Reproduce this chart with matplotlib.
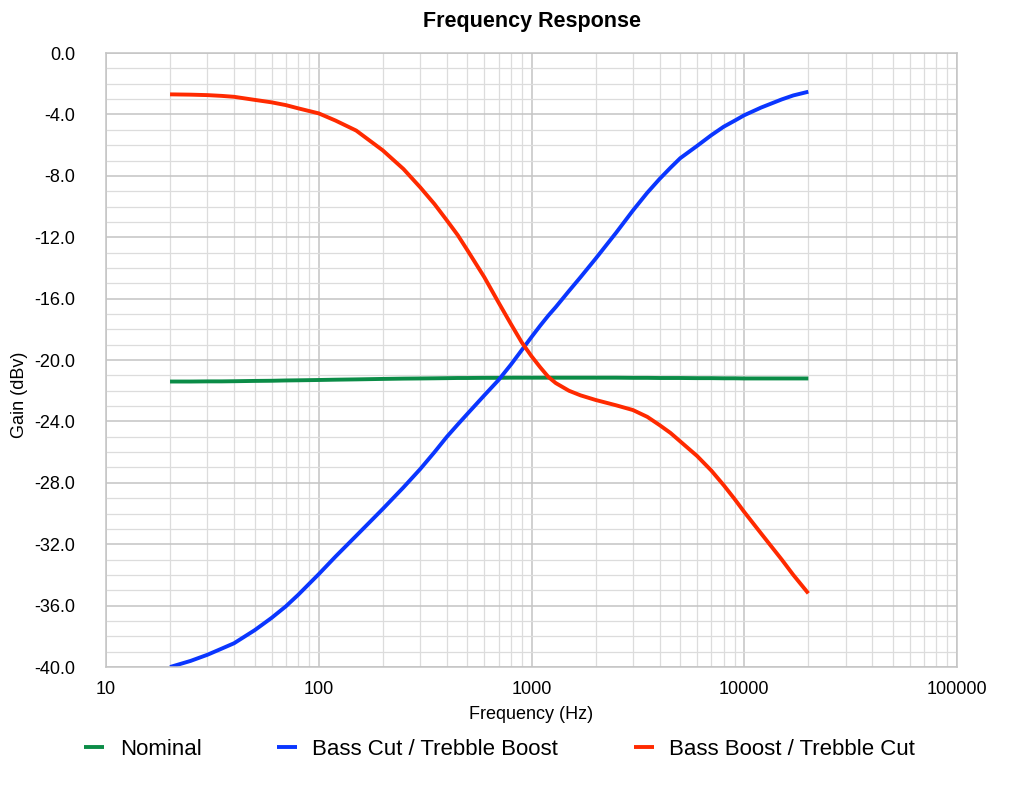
import matplotlib
matplotlib.use("Agg")
import matplotlib.pyplot as plt
from matplotlib.ticker import FixedLocator, LogLocator, NullFormatter, MultipleLocator

plt.rcParams['font.family'] = ['Liberation Sans', 'DejaVu Sans']

# Frequency points (Hz)
freq = [20, 25, 30, 35, 40, 50, 60, 70, 80, 100, 120, 150, 200, 250, 300, 350,
        400, 450, 500, 600, 700, 800, 900, 1000, 1100, 1200, 1300, 1500, 1700,
        2000, 2500, 3000, 3500, 4000, 4500, 5000, 6000, 7000, 8000, 9000,
        10000, 12000, 15000, 17000, 20000]

nominal = [-21.4, -21.4, -21.39, -21.39, -21.38, -21.36, -21.35, -21.33, -21.32,
           -21.3, -21.28, -21.26, -21.23, -21.21, -21.2, -21.19, -21.18, -21.17,
           -21.17, -21.16, -21.16, -21.15, -21.15, -21.15, -21.15, -21.15, -21.15,
           -21.15, -21.15, -21.15, -21.15, -21.16, -21.16, -21.17, -21.17, -21.17,
           -21.18, -21.18, -21.19, -21.19, -21.2, -21.2, -21.2, -21.2, -21.2]

bass_cut = [-40.0, -39.6, -39.2, -38.8, -38.45, -37.6, -36.8, -36.05, -35.3,
            -33.95, -32.8, -31.45, -29.7, -28.3, -27.1, -26.0, -25.0, -24.2,
            -23.5, -22.3, -21.3, -20.3, -19.35, -18.5, -17.75, -17.1, -16.55,
            -15.5, -14.6, -13.4, -11.7, -10.25, -9.1, -8.2, -7.47, -6.85,
            -6.05, -5.35, -4.8, -4.41, -4.05, -3.55, -3.02, -2.76, -2.52]

bass_boost = [-2.69, -2.71, -2.74, -2.79, -2.85, -3.05, -3.21, -3.39, -3.6,
              -3.93, -4.4, -5.05, -6.34, -7.55, -8.75, -9.84, -10.9, -11.86,
              -12.85, -14.6, -16.25, -17.65, -18.85, -19.75, -20.48, -21.1, -21.5,
              -22.0, -22.3, -22.6, -22.95, -23.26, -23.7, -24.24, -24.75, -25.3,
              -26.25, -27.2, -28.15, -29.05, -29.9, -31.3, -33.0, -34.0, -35.2]

y_ticks = [-40.0, -36.0, -32.0, -28.0, -24.0, -20.0, -16.0, -12.0, -8.0, -4.0, 0.0]
x_ticks = [10, 100, 1000, 10000, 100000]

fig = plt.figure(figsize=(10.24, 7.92), dpi=100)
ax = fig.add_axes([0.1035, 0.1578, 0.8311, 0.7752])

line_kw = dict(lw=2.8, solid_capstyle='butt', solid_joinstyle='round')
ax.plot(freq, nominal, color='#0b8c47', label='Nominal', **line_kw)
ax.plot(freq, bass_cut, color='#0a36ff', label='Bass Cut / Trebble Boost', **line_kw)
ax.plot(freq, bass_boost, color='#ff2a00', label='Bass Boost / Trebble Cut', **line_kw)

ax.set_xscale('log')
ax.set_xlim(10, 100000)
ax.set_ylim(-40, 0)

ax.xaxis.set_major_locator(FixedLocator(x_ticks))
ax.set_xticklabels([str(t) for t in x_ticks])
ax.xaxis.set_minor_locator(LogLocator(base=10, subs=range(2, 10), numticks=20))
ax.xaxis.set_minor_formatter(NullFormatter())
ax.yaxis.set_major_locator(FixedLocator(y_ticks))
ax.set_yticklabels([f"{t:.1f}" for t in y_ticks])
ax.yaxis.set_minor_locator(MultipleLocator(1))

ax.grid(which='major', color='#c4c4c4', lw=1.1)
ax.grid(which='minor', color='#dcdcdc', lw=0.9)
ax.set_axisbelow(True)
for s in ax.spines.values():
    s.set_color('#c4c4c4')
    s.set_linewidth(1.1)

ax.tick_params(which='both', length=0)
ax.tick_params(axis='y', pad=22, labelsize=13)
ax.tick_params(axis='x', pad=10, labelsize=13)

ax.set_title('Frequency Response', fontsize=15.5, fontweight='bold', pad=19)
ax.set_xlabel('Frequency (Hz)', fontsize=13, labelpad=6)
ax.set_ylabel('Gain (dBv)', fontsize=13)
ax.yaxis.set_label_coords(-0.092, 0.443)

fig.legend(loc='center', bbox_to_anchor=(0.488, 0.054), ncol=3, frameon=False,
           fontsize=16, handlelength=0.9, handletextpad=0.7, columnspacing=3.4)

fig.savefig('out.png', dpi=100)
